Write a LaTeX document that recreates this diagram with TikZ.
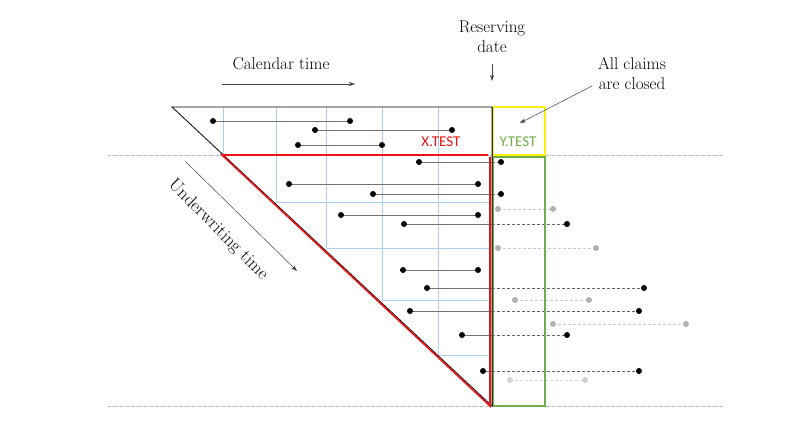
\documentclass[tikz,border=0pt]{standalone}
\usepackage{fontspec}
\newfontfamily\calibri{Carlito}
\usetikzlibrary{arrows.meta}
\definecolor{gridblue}{RGB}{175,205,235}
\definecolor{xred}{RGB}{235,20,20}
\definecolor{ygreen}{RGB}{112,173,71}
\definecolor{yyellow}{RGB}{250,240,20}
\tikzset{
  lbl/.style={font=\fontsize{17}{20}\selectfont, align=center, inner sep=0pt},
  note/.style={-{Stealth[length=6pt,width=4pt]}, black!75, line width=0.5pt},
  claim/.style={line width=0.8pt, black!55},
  late/.style={line width=0.8pt, black!60, dash pattern=on 3pt off 2pt},
  ghost/.style={line width=0.8pt, black!22, dash pattern=on 3pt off 2pt},
  cutoff/.style={black!28, line width=0.6pt, dash pattern=on 3pt off 1pt on 1pt off 1pt},
  devgrid/.style={gridblue, line width=0.6pt},
  tag/.style={font=\calibri\fontsize{15}{18}\selectfont, inner sep=0pt},
}
\begin{document}
\begin{tikzpicture}[x=1pt,y=-1pt]
   \useasboundingbox (0,0) rectangle (806,425);
   % cut-off lines
   \draw[cutoff] (108,155) -- (723,155);
   \draw[cutoff] (108,406) -- (723,406);
   % development grid
   \draw[devgrid] (223,107) -- (223,155);
   \draw[devgrid] (276,107) -- (276,202) -- (489,202);
   \draw[devgrid] (326,107) -- (326,248) -- (489,248);
   \draw[devgrid] (382,107) -- (382,300) -- (489,300);
   \draw[devgrid] (438,107) -- (438,355) -- (489,355);
   % reported claims
   \foreach \xs/\xe/\y in {213/350/121, 315/452/130, 298/382/145, 419/501/162,
        289/478/184, 373/501/194, 341/478/215, 404/567/224, 403/478/270,
        427/644/288, 410/639/311, 462/567/335, 483/639/371}{
     \pgfmathsetmacro\xm{min(\xe,492)}
     \coordinate (open) at (\xs,\y);
     \coordinate (cut)  at (\xm,\y);
     \coordinate (shut) at (\xe,\y);
     \draw[claim] (open) -- (cut);
     \draw[late]  (cut) -- (shut);
     \fill (open) circle (3pt) (shut) circle (3pt);
   }
   % claims not yet reported
   \foreach \xs/\xe/\y in {498/553/209, 498/596/248, 515/589/300, 553/686/324}{
     \coordinate (open) at (\xs,\y);
     \coordinate (shut) at (\xe,\y);
     \draw[ghost] (open) -- (shut);
     \fill[black!30] (open) circle (3pt) (shut) circle (3pt);
   }
   \coordinate (open) at (510,380);
   \coordinate (shut) at (585,380);
   \draw[ghost, black!15] (open) -- (shut);
   \fill[black!18] (open) circle (3pt) (shut) circle (3pt);
   % triangles and boxes
   \draw[yyellow, line width=1.3pt] (493,107) rectangle (545,155);
   \draw[ygreen,  line width=1.3pt] (493,157) rectangle (545,406);
   \draw[line width=0.8pt] (492,406) -- (172,107) -- (492,107) -- cycle;
   \draw[xred, line width=1.6pt] (488,155) -- (222,155) -- (490,406) -- (490,157);
   \draw[black!80, line width=0.9pt] (492.5,107) -- (492.5,406);
   % labels
   \node[tag, text=xred]   (xtest) at (441,142) {X.TEST};
   \node[tag, text=ygreen] (ytest) at (518,142) {Y.TEST};
   \node[lbl] (caltime) at (281,64) {Calendar time};
   \coordinate (calA) at (222,84);
   \coordinate (calB) at (355,84);
   \draw[note] (calA) -- (calB);
   \node[lbl, font=\fontsize{18}{20}\selectfont, rotate=-45] (uwtime) at (218,230) {Underwriting time};
   \coordinate (uwA) at (186,162);
   \coordinate (uwB) at (297,271);
   \draw[note] (uwA) -- (uwB);
   \node[lbl] (resdate) at (492,37) {Reserving\\date};
   \coordinate (resA) at (492,64);
   \coordinate (resB) at (492,81);
   \draw[note] (resA) -- (resB);
   \node[lbl] (closed) at (632,74) {All claims\\are closed};
   \coordinate (clA) at (592,86);
   \coordinate (clB) at (520,123);
   \draw[note] (clA) -- (clB);
\end{tikzpicture}
\end{document}
